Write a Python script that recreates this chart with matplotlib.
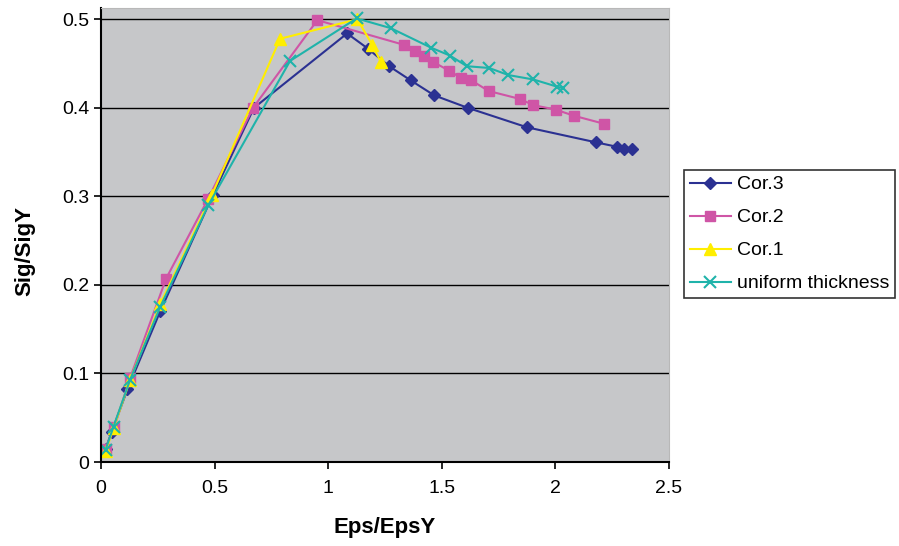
import matplotlib.pyplot as plt

plt.rcParams['font.family'] = ['Liberation Sans', 'DejaVu Sans']

# Cor.3
cor3_x = [0.02, 0.047, 0.116, 0.26, 0.493, 0.673, 1.083, 1.174, 1.268, 1.363, 1.467,
          1.614, 1.875, 2.179, 2.271, 2.30, 2.337]
cor3_y = [0.015, 0.034, 0.082, 0.170, 0.302, 0.400, 0.484, 0.467, 0.447, 0.431, 0.414,
          0.400, 0.378, 0.361, 0.356, 0.354, 0.354]

# Cor.2
cor2_x = [0.02, 0.059, 0.128, 0.286, 0.471, 0.669, 0.952, 1.335, 1.382, 1.422, 1.46,
          1.532, 1.583, 1.630, 1.706, 1.844, 1.903, 2.001, 2.082, 2.214]
cor2_y = [0.015, 0.040, 0.095, 0.207, 0.297, 0.400, 0.499, 0.471, 0.464, 0.458, 0.452,
          0.442, 0.434, 0.431, 0.419, 0.410, 0.403, 0.398, 0.391, 0.382]

# Cor.1
cor1_x = [0.02, 0.055, 0.128, 0.26, 0.487, 0.788, 1.128, 1.194, 1.231]
cor1_y = [0.012, 0.038, 0.093, 0.178, 0.301, 0.478, 0.500, 0.471, 0.452]

# uniform thickness
uni_x = [0.02, 0.055, 0.128, 0.26, 0.472, 0.832, 1.125, 1.275, 1.452, 1.536, 1.61,
         1.708, 1.793, 1.903, 2.006, 2.035]
uni_y = [0.014, 0.040, 0.093, 0.175, 0.290, 0.453, 0.501, 0.490, 0.468, 0.459, 0.447,
         0.445, 0.437, 0.432, 0.424, 0.422]

fig = plt.figure(figsize=(8.99, 5.46), dpi=100)
ax = fig.add_axes([0.1124, 0.1538, 0.6318, 0.831])
ax.set_facecolor('#C6C7C9')

ax.plot(cor3_x, cor3_y, color='#2B3192', marker='D', markersize=6, lw=1.5, label='Cor.3')
ax.plot(cor2_x, cor2_y, color='#CF55A6', marker='s', markersize=7, lw=1.5, label='Cor.2')
ax.plot(cor1_x, cor1_y, color='#FFEE00', marker='^', markersize=8, lw=1.5, label='Cor.1')
ax.plot(uni_x, uni_y, color='#1FB3AA', marker='x', markersize=9, mew=1.5, lw=1.5,
        label='uniform thickness')

ax.set_xlim(0, 2.5)
ax.set_ylim(0, 0.5124)
ax.set_xticks([0, 0.5, 1, 1.5, 2, 2.5])
ax.set_xticklabels(['0', '0.5', '1', '1.5', '2', '2.5'])
ax.set_yticks([0, 0.1, 0.2, 0.3, 0.4, 0.5])
ax.set_yticklabels(['0', '0.1', '0.2', '0.3', '0.4', '0.5'])
ax.yaxis.grid(True, color='black', lw=1)
ax.set_axisbelow(True)
ax.tick_params(axis='both', labelsize=14, length=5, width=1.2, color='black')
ax.tick_params(axis='x', pad=8)
for side in ['top', 'right']:
    ax.spines[side].set_color('#B8B8B8')
for side in ['left', 'bottom']:
    ax.spines[side].set_linewidth(1.5)

ax.set_xlabel('Eps/EpsY', fontsize=16, fontweight='bold', labelpad=14)
ax.set_ylabel('Sig/SigY', fontsize=16, fontweight='bold')
ax.yaxis.set_label_coords(-0.115, 0.465)

leg = fig.legend(loc='upper left', bbox_to_anchor=(0.761, 0.6886), borderaxespad=0,
                 fontsize=14, frameon=True, fancybox=False, edgecolor='black',
                 handlelength=2.1, borderpad=0.3, labelspacing=0.79, handletextpad=0.3)
leg.get_frame().set_linewidth(1.2)

fig.savefig('out.png', dpi=100)
